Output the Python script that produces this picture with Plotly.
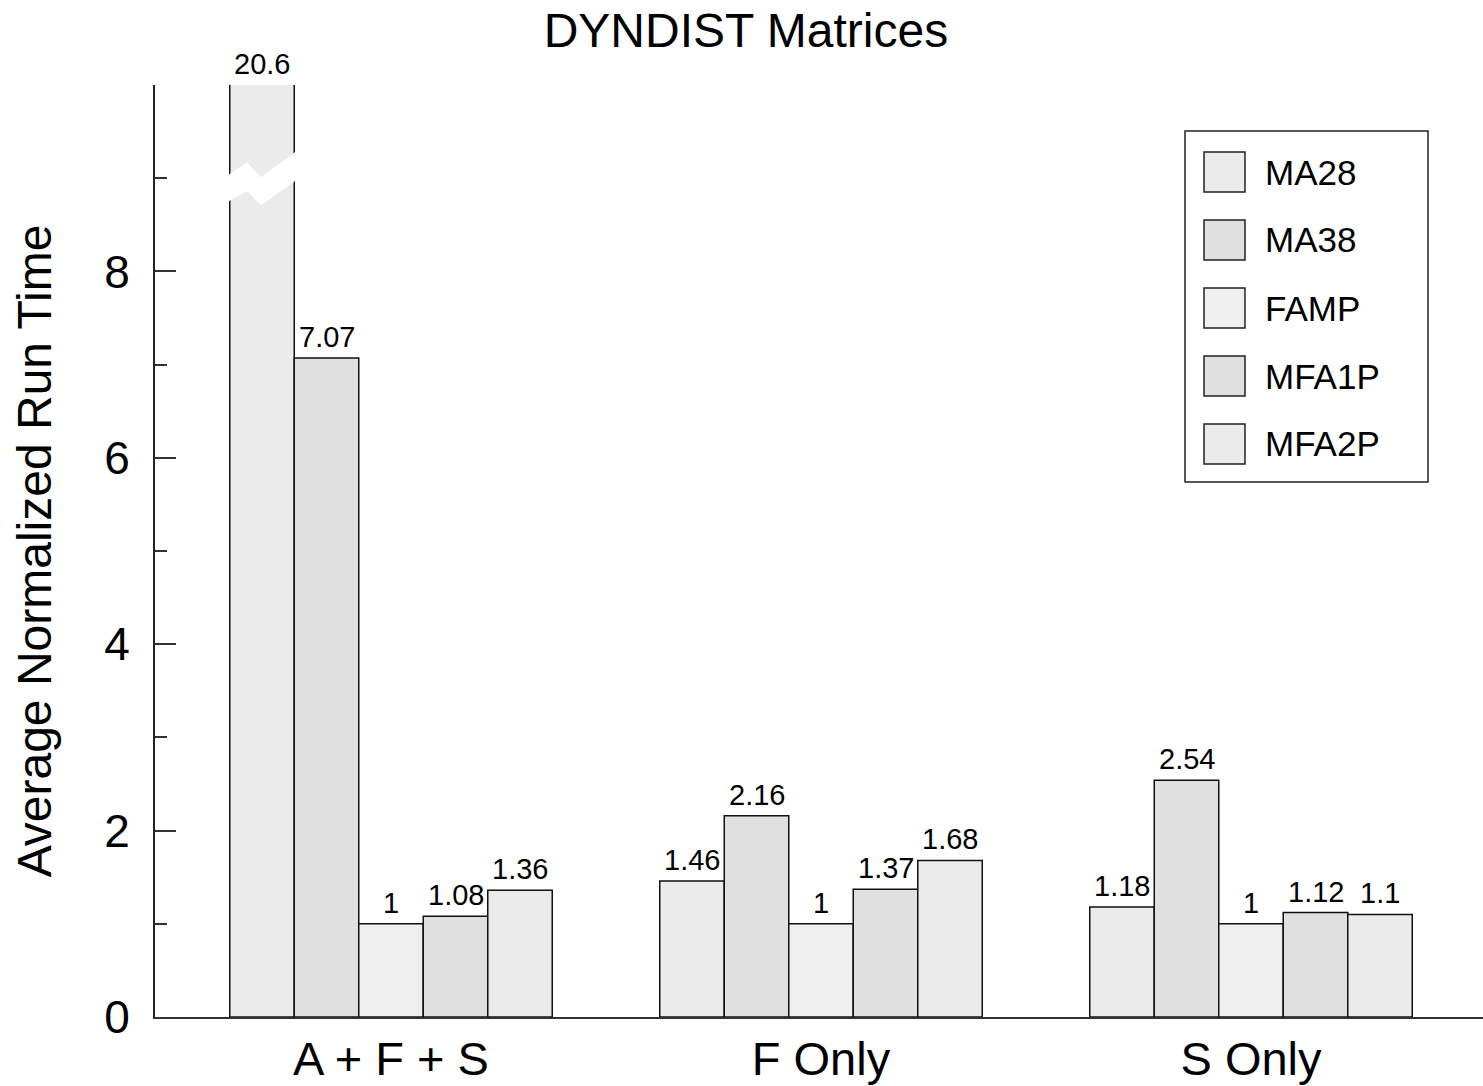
import plotly.graph_objects as go

# Run-time data (normalized to FAMP) for the DYNDIST matrix sets
categories = ["A + F + S", "F Only", "S Only"]
series_names = ["MA28", "MA38", "FAMP", "MFA1P", "MFA2P"]
values = {
    "MA28":  [20.6, 1.46, 1.18],
    "MA38":  [7.07, 2.16, 2.54],
    "FAMP":  [1, 1, 1],
    "MFA1P": [1.08, 1.37, 1.12],
    "MFA2P": [1.36, 1.68, 1.1],
}
colors = ["#ebebeb", "#e0e0e0", "#efefef", "#e0e0e0", "#ebebeb"]
y_tick_vals = [0, 2, 4, 6, 8]
y_minor_vals = [1, 3, 5, 7, 9]
y_max = 10

FONT = "Liberation Sans, Arial, Helvetica, sans-serif"
W, H = 1483, 1086
ML, MR, MT, MB = 155, 0, 85, 69
plot_w = W - ML - MR
plot_h = H - MT - MB
cat_px = 430.0
x_lo = -(391 - ML) / cat_px
x_hi = x_lo + plot_w / cat_px

bargap = 0.25
n_series = len(series_names)
bar_w = (1 - bargap) / n_series

fig = go.Figure()
for i, name in enumerate(series_names):
    fig.add_trace(go.Bar(
        name=name,
        x=list(range(len(categories))),
        y=values[name],
        marker=dict(color=colors[i], line=dict(color="#111111", width=1.5)),
        showlegend=False,
    ))

# value labels above each bar (clipped bars get their label at the axis top)
annotations = []
for i, name in enumerate(series_names):
    offset = -0.5 * (1 - bargap) + (i + 0.5) * bar_w
    for c, v in enumerate(values[name]):
        annotations.append(dict(
            x=c + offset, y=min(v, y_max), xref="x", yref="y",
            text=f"{v:g}", showarrow=False, yanchor="bottom", yshift=3,
            font=dict(family=FONT, size=29, color="black"),
        ))

# axis-break mark on any bar that runs past the top of the axis
shapes = []
for i, name in enumerate(series_names):
    offset = -0.5 * (1 - bargap) + i * bar_w
    for c, v in enumerate(values[name]):
        if v > y_max:
            left = c + offset

            def bx(u):
                return left + u * bar_w
            path = (f"M {bx(-0.05)} 9.02 L {bx(0.267)} 9.17 L {bx(0.484)} 9.01 "
                    f"L {bx(1.05)} 9.30 L {bx(1.05)} 8.99 L {bx(0.484)} 8.71 "
                    f"L {bx(0.267)} 8.86 L {bx(-0.05)} 8.74 Z")
            shapes.append(dict(type="path", path=path, xref="x", yref="y",
                               fillcolor="white", line=dict(width=0), layer="above"))


# legend drawn as a boxed list of large swatches
def px_x(p):
    return (p - ML) / plot_w


def px_y(p):
    return (H - MB - p) / plot_h


shapes.append(dict(type="rect", xref="paper", yref="paper",
                   x0=px_x(1185), x1=px_x(1428), y0=px_y(482), y1=px_y(131),
                   line=dict(color="#222222", width=1.5), fillcolor="white", layer="above"))
row0, row_step = 172, 68
for i, name in enumerate(series_names):
    cy = row0 + i * row_step
    shapes.append(dict(type="rect", xref="paper", yref="paper",
                       x0=px_x(1204), x1=px_x(1245), y0=px_y(cy + 20), y1=px_y(cy - 20),
                       line=dict(color="#222222", width=1.5), fillcolor=colors[i], layer="above"))
    annotations.append(dict(x=px_x(1263), y=px_y(cy), xref="paper", yref="paper",
                            text=name, showarrow=False, xanchor="left", yanchor="middle",
                            font=dict(family=FONT, size=35, color="black")))

fig.update_layout(
    width=W, height=H,
    margin=dict(l=ML, r=MR, t=MT, b=MB, pad=0),
    paper_bgcolor="white", plot_bgcolor="white",
    barmode="group", bargap=bargap, bargroupgap=0,
    title=dict(text="DYNDIST Matrices", x=0.503, xanchor="center",
               y=1 - 30 / H, yanchor="middle", yref="container",
               font=dict(family=FONT, size=48, color="black")),
    font=dict(family=FONT, color="black"),
    annotations=annotations,
    shapes=shapes,
    xaxis=dict(
        range=[x_lo, x_hi], tickvals=list(range(len(categories))), ticktext=categories,
        showgrid=False, zeroline=False, showline=True, linecolor="#333333", linewidth=2,
        ticks="", tickfont=dict(family=FONT, size=47, color="black"),
    ),
    yaxis=dict(
        range=[0, y_max], tickvals=y_tick_vals, showgrid=False, zeroline=False,
        showline=True, linecolor="#222222", linewidth=2,
        ticks="inside", ticklen=21, tickwidth=2, tickcolor="#333333",
        minor=dict(tickvals=y_minor_vals, ticks="inside", ticklen=12, tickwidth=2,
                   tickcolor="#333333", showgrid=False),
        tickfont=dict(family=FONT, size=46, color="black"), ticklabelstandoff=14,
        title=dict(text="Average Normalized Run Time", standoff=37,
                   font=dict(family=FONT, size=48, color="black")),
    ),
)

fig.write_html("out.html")
